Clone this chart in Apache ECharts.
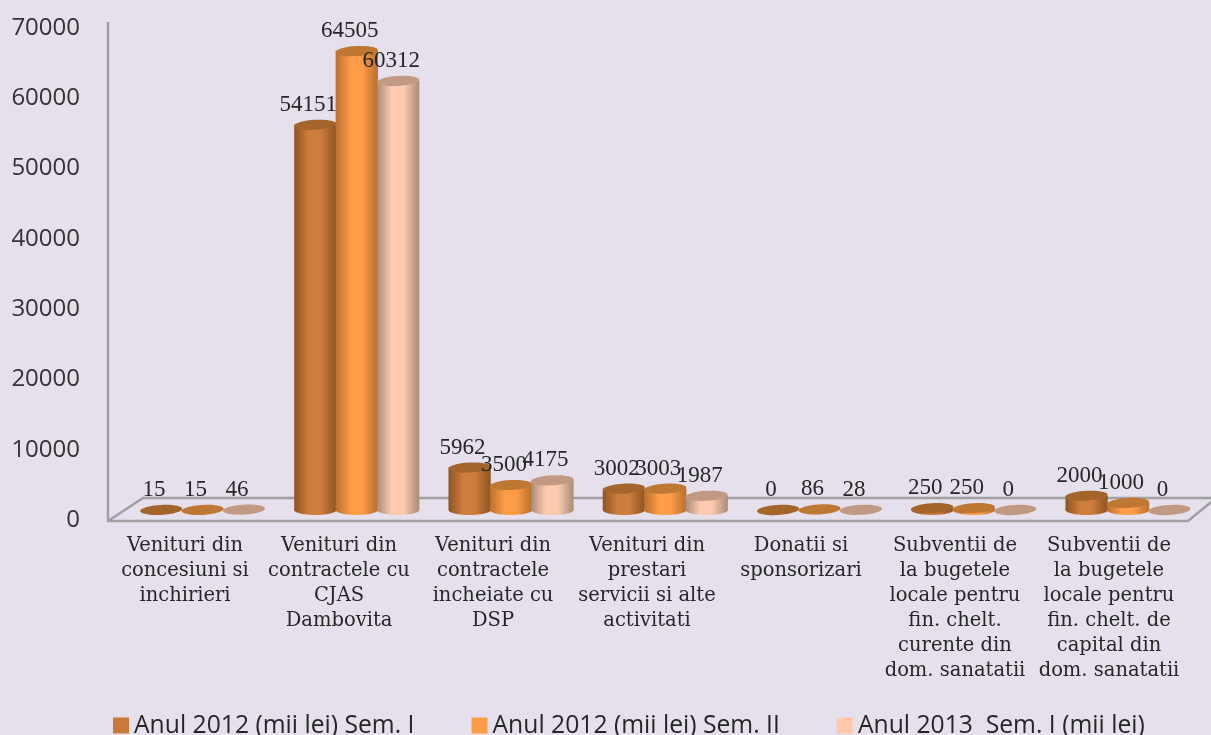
<!DOCTYPE html>
<html>
<head>
<meta charset="utf-8">
<style>html,body{margin:0;padding:0;background:#E5E0EC;overflow:hidden}#c{width:1211px;height:735px}</style>
<script src="https://cdn.jsdelivr.net/npm/echarts@6/dist/echarts.min.js"></script>
</head>
<body>
<div id="c"></div>
<script>
const categories = [
  'Venituri din\nconcesiuni si\ninchirieri',
  'Venituri din\ncontractele cu\nCJAS\nDambovita',
  'Venituri din\ncontractele\nincheiate cu\nDSP',
  'Venituri din\nprestari\nservicii si alte\nactivitati',
  'Donatii si\nsponsorizari',
  'Subventii de\nla bugetele\nlocale pentru\nfin. chelt.\ncurente din\ndom. sanatatii',
  'Subventii de\nla bugetele\nlocale pentru\nfin. chelt. de\ncapital din\ndom. sanatatii'
];
const sem1_2012 = [15, 54151, 5962, 3002, 0, 250, 2000];
const sem2_2012 = [15, 64505, 3500, 3003, 86, 250, 1000];
const sem1_2013 = [46, 60312, 4175, 1987, 28, 0, 0];
const seriesNames = ['Anul 2012 (mii lei) Sem. I', 'Anul 2012 (mii lei) Sem. II', 'Anul 2013  Sem. I (mii lei)'];
const seriesValues = [sem1_2012, sem2_2012, sem1_2013];
const swatch = ['#C9793A', '#FF9A47', '#FFC8AC'];
const palette = [
  {edge:'#8E5423', mid:'#CE7D3C', top:'#A4652B'},
  {edge:'#B86F2E', mid:'#FF9C48', top:'#BE7833'},
  {edge:'#A88B78', mid:'#FFCBB0', top:'#C29A84'}
];

function cylinder(sIdx) {
  return function (params, api) {
    const v = api.value(1);
    const top = api.coord([api.value(0), v]);
    const base = api.coord([api.value(0), 0]);
    const band = api.size([1, 0])[0];
    const step = band * 0.2685;
    const w = band * 0.274;
    const cx = top[0] + (sIdx - 1) * step;
    const rx = w / 2, ry = 5;
    const p = palette[sIdx];
    const grad = new echarts.graphic.LinearGradient(0, 0, 1, 0, [
      {offset: 0, color: p.edge},
      {offset: 0.35, color: p.mid},
      {offset: 0.62, color: p.mid},
      {offset: 1, color: p.edge}
    ]);
    const tilt = 0.055;
    const kids = [];
    const h = base[1] - top[1];
    if (h >= 1) {
      kids.push({type:'ellipse', shape:{cx:cx, cy:base[1], rx:rx, ry:ry}, style:{fill:grad}});
      kids.push({type:'rect', shape:{x:cx-rx, y:top[1], width:w, height:h}, style:{fill:grad}});
    }
    kids.push({type:'ellipse', shape:{cx:cx, cy:top[1], rx:rx, ry:ry},
      rotation:tilt, originX:cx, originY:top[1], style:{fill:p.top}});
    kids.push({type:'text', z2:50, style:{text:String(v), x:cx-7, y:top[1]-20, align:'center', verticalAlign:'middle',
      fontFamily:'Liberation Serif', fontSize:23, fill:'#262626'}});
    return {type:'group', children:kids};
  };
}

const chart = echarts.init(document.getElementById('c'), null, {renderer:'canvas'});
chart.setOption({
  animation:false,
  backgroundColor:'#E5E0EC',
  grid:[
    {left:108, width:1078, top:28, height:492},
    {left:125.4, width:1079.75, top:12, height:498}
  ],
  xAxis:[
    {type:'category', gridIndex:0, data:categories,
     axisLine:{show:false}, axisTick:{show:false}, splitLine:{show:false},
     axisLabel:{interval:0, margin:13, color:'#262626', fontFamily:'DejaVu Serif', fontSize:19.5, lineHeight:25, hideOverlap:false}},
    {type:'category', gridIndex:1, data:categories, show:false}
  ],
  yAxis:[
    {type:'value', gridIndex:0, min:0, max:70000, interval:10000,
     axisLine:{show:false}, axisTick:{show:false}, splitLine:{show:false},
     axisLabel:{margin:28, color:'#333333', fontFamily:'Open Sans', fontSize:24, formatter:function(v){return String(v);}}},
    {type:'value', gridIndex:1, min:0, max:70000, show:false, splitLine:{show:false}}
  ],
  legend:{left:113, top:713, padding:0, itemWidth:16, itemHeight:16, itemGap:57, icon:'rect',
    textStyle:{fontFamily:'Open Sans', fontSize:24.7, color:'#262626'},
    data:seriesNames},
  graphic:[
    {type:'polyline', silent:true, shape:{points:[[108,22],[108,521],[1188,521],[1216,498],[143,498],[108,521]]},
     style:{fill:null, stroke:'#A0A0A0', lineWidth:2.5}}
  ],
  series:seriesValues.map((vals,i)=>({
    name:seriesNames[i], type:'custom', coordinateSystem:'cartesian2d', xAxisIndex:1, yAxisIndex:1,
    itemStyle:{color:swatch[i]}, renderItem:cylinder(i), encode:{x:0,y:1}, clip:false, silent:true,
    data:vals.map((v,k)=>[k,v])
  }))
});
</script>
</body>
</html>
